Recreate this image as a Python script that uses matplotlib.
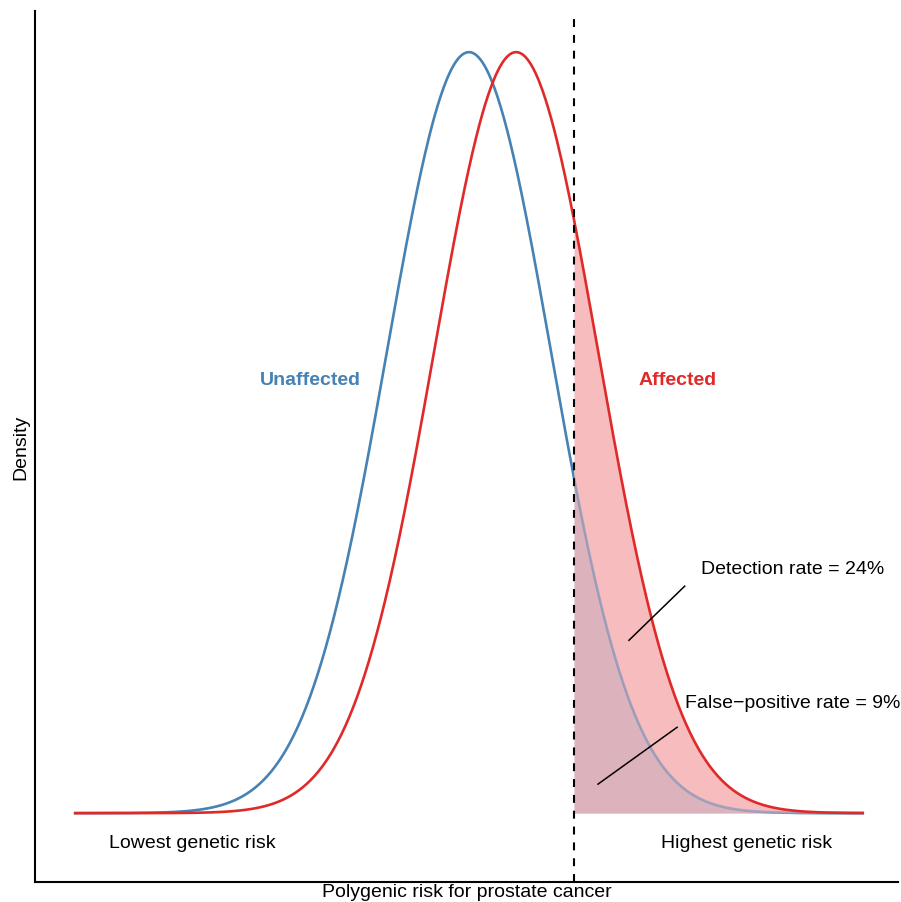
import numpy as np
import matplotlib
matplotlib.use("Agg")
import matplotlib.pyplot as plt

plt.rcParams['font.family'] = ['Liberation Sans', 'DejaVu Sans']

# Distribution parameters (in SD units of the unaffected group)
groups = ["Unaffected", "Affected"]
means = [0.0, 0.575]
sds = [1.0, 1.0]
threshold = 1.28
x_range = [-4.8, 4.8]
colors = ["#4682B4", "#E02A2A"]
red_fill = "#F7BCBE"
annotations = ["Detection rate = 24%", "False\u2212positive rate = 9%"]
end_labels = ["Lowest genetic risk", "Highest genetic risk"]

x = np.linspace(x_range[0], x_range[1], 800)
def pdf(v, m, s):
    return np.exp(-0.5 * ((v - m) / s) ** 2) / (s * np.sqrt(2 * np.pi))

fig = plt.figure(figsize=(9.01, 9.03), dpi=100)
ax = fig.add_axes([35/901, 20/903, 863/901, 871/903])

y_un = pdf(x, means[0], sds[0])
y_af = pdf(x, means[1], sds[1])
mask = x >= threshold
xm = np.concatenate([[threshold], x[mask]])
yum = pdf(xm, means[0], sds[0])
yam = pdf(xm, means[1], sds[1])

ax.plot(x, y_un, color=colors[0], lw=1.9, zorder=2)
ax.fill_between(xm, 0, yam, color=red_fill, lw=0, zorder=3)
ax.fill_between(xm, 0, yum, color=colors[0], alpha=0.15, lw=0, zorder=3)
ax.plot(xm, yum, color=colors[0], lw=1.9, alpha=0.45, zorder=3.5)
ax.plot(x, y_af, color=colors[1], lw=1.9, zorder=4)

ax.axvline(threshold, ymin=0, ymax=0.993, color='black', lw=1.5, dashes=(3.8, 3.8), zorder=5)

ax.set_xlim(-5.29, 5.23)
ax.set_ylim(-0.0361, 0.4205)

ax.text(-1.93, 0.2275, groups[0], color=colors[0], fontsize=14, fontweight='bold', ha='center', va='center')
ax.text(2.54, 0.2275, groups[1], color=colors[1], fontsize=14, fontweight='bold', ha='center', va='center')

ax.text(3.95, 0.128, annotations[0], fontsize=14, ha='center', va='center')
ax.plot([1.95, 2.63], [0.0906, 0.119], color='black', lw=1.1, zorder=6)
ax.text(3.95, 0.058, annotations[1], fontsize=14, ha='center', va='center')
ax.plot([1.573, 2.537], [0.0152, 0.045], color='black', lw=1.1, zorder=6)

ax.text(-3.37, -0.0155, end_labels[0], fontsize=14, ha='center', va='center')
ax.text(3.38, -0.0155, end_labels[1], fontsize=14, ha='center', va='center')

ax.set_xlabel("Polygenic risk for prostate cancer", fontsize=14, labelpad=1)
ax.set_ylabel("Density", fontsize=14, labelpad=4)
ax.set_xticks([])
ax.set_yticks([])
for s in ['top', 'right']:
    ax.spines[s].set_visible(False)
for s in ['left', 'bottom']:
    ax.spines[s].set_linewidth(1.5)

fig.savefig("out.png", dpi=100)
